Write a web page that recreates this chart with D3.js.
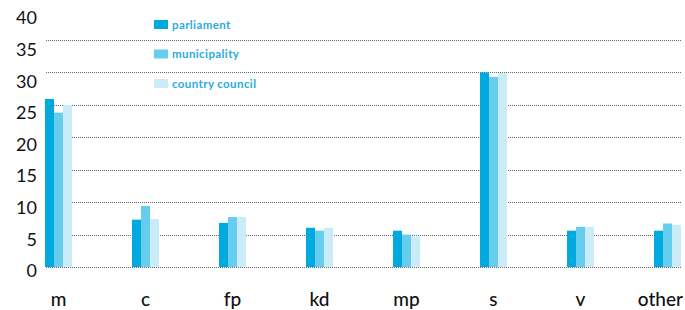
<!DOCTYPE html>
<html>
<head>
<meta charset="utf-8">
<script src="https://cdn.jsdelivr.net/npm/d3@7"></script>
<style>
  html, body { margin: 0; padding: 0; background: #fff; }
  svg { display: block; }
  .tick-label { font-family: Lato, "Open Sans", sans-serif; font-size: 18px; fill: #111; }
  .cat-label { font-family: Lato, "Open Sans", sans-serif; font-size: 19px; font-weight: 500; fill: #111; }
  .legend-text { font-family: Lato, "Open Sans", sans-serif; font-size: 11.5px; font-weight: 700; letter-spacing: 0.4px; fill: #29abe2; }
</style>
</head>
<body>
<svg id="chart" width="685" height="310"></svg>
<script>
(function () {
  "use strict";

  const categories = ["m", "c", "fp", "kd", "mp", "s", "v", "other"];
  const seriesNames = ["parliament", "municipality", "country council"];
  const parliament = [25.9, 7.3, 6.8, 6.05, 5.6, 30.0, 5.6, 5.6];
  const municipality = [23.8, 9.4, 7.7, 5.6, 5.0, 29.3, 6.2, 6.7];
  const countryCouncil = [25.0, 7.4, 7.7, 6.05, 4.7, 29.9, 6.2, 6.5];
  const yTicks = [0, 5, 10, 15, 20, 25, 30, 35, 40];
  const gridValues = [0, 5, 10, 15, 20, 25, 30, 35];
  const colors = ["#00aade", "#66cdee", "#c9ecf8"];

  const seriesValues = [parliament, municipality, countryCouncil];
  const rows = categories.map((c, i) => ({
    cat: c,
    values: seriesNames.map((s, j) => ({ series: s, value: seriesValues[j][i], color: colors[j] }))
  }));

  const svg = d3.select("#chart");
  const W = 685;

  const x = d3.scaleBand().domain(categories).range([45, 681]).paddingInner(0.69).paddingOuter(0);
  const xInner = d3.scaleBand().domain(seriesNames).range([0, x.bandwidth()]);
  const y = d3.scaleLinear().domain([0, 40]).range([267, 7.5]);
  // tick labels sit on their own slightly tighter scale in the original
  const yLabel = d3.scaleLinear().domain([0, 40]).range([271, 18]);

  // grid
  svg.append("g")
    .selectAll("line")
    .data(gridValues)
    .join("line")
    .attr("x1", 46)
    .attr("x2", 682)
    .attr("y1", d => Math.round(y(d)) + 0.5)
    .attr("y2", d => Math.round(y(d)) + 0.5)
    .attr("stroke", "#666")
    .attr("stroke-width", 1)
    .attr("stroke-dasharray", "1,1");

  // y labels
  svg.append("g")
    .selectAll("text")
    .data(yTicks)
    .join("text")
    .attr("class", "tick-label")
    .attr("x", 37)
    .attr("y", d => yLabel(d))
    .attr("dy", "0.35em")
    .attr("text-anchor", "end")
    .text(d => d);

  // bars
  const groups = svg.append("g")
    .selectAll("g")
    .data(rows)
    .join("g")
    .attr("transform", d => `translate(${x(d.cat)},0)`);

  groups.selectAll("rect")
    .data(d => d.values)
    .join("rect")
    .attr("x", d => xInner(d.series))
    .attr("width", xInner.bandwidth())
    .attr("y", d => y(d.value))
    .attr("height", d => y(0) - y(d.value))
    .attr("fill", d => d.color);

  // category labels, kept inside the right edge
  svg.append("g")
    .selectAll("text")
    .data(categories)
    .join("text")
    .attr("class", "cat-label")
    .attr("x", d => x(d) + x.bandwidth() / 2)
    .attr("y", 306)
    .attr("text-anchor", "middle")
    .text(d => d)
    .each(function (d) {
      const box = this.getBBox();
      const over = box.x + box.width - (W - 2);
      if (over > 0) d3.select(this).attr("x", x(d) + x.bandwidth() / 2 - over);
    });

  // legend
  const legend = svg.append("g")
    .selectAll("g")
    .data(seriesNames)
    .join("g")
    .attr("transform", (d, i) => `translate(154,${20 + i * 29.5})`);

  legend.append("rect")
    .attr("width", 14)
    .attr("height", 9)
    .attr("fill", (d, i) => colors[i]);

  legend.append("text")
    .attr("class", "legend-text")
    .attr("x", 18)
    .attr("y", 4.5)
    .attr("dy", "0.35em")
    .text(d => d);
})();
</script>
</body>
</html>
